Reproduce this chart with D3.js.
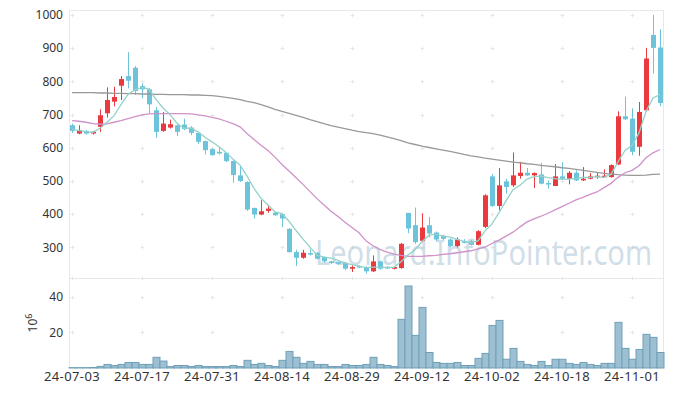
<!DOCTYPE html>
<html>
<head>
<meta charset="utf-8">
<script src="https://cdn.jsdelivr.net/npm/d3@7"></script>
<style>
  body { margin: 0; background: #fff; }
  text { font-family: "Noto Sans", sans-serif; }
</style>
</head>
<body>
<svg id="chart" width="673" height="396"></svg>
<script>
// trading days (2024)
const dates = [
  "07-03","07-04","07-05","07-08","07-09","07-10","07-11","07-12","07-15","07-16",
  "07-17","07-18","07-19","07-22","07-23","07-24","07-25","07-26","07-29","07-30",
  "07-31","08-01","08-02","08-05","08-06","08-07","08-08","08-09","08-12","08-13",
  "08-14","08-16","08-19","08-20","08-21","08-22","08-23","08-26","08-27","08-28",
  "08-29","08-30","09-02","09-03","09-04","09-05","09-06","09-09","09-10","09-11",
  "09-12","09-13","09-19","09-20","09-23","09-24","09-25","09-26","09-27","09-30",
  "10-02","10-04","10-07","10-08","10-10","10-11","10-14","10-15","10-16","10-17",
  "10-18","10-21","10-22","10-23","10-24","10-25","10-28","10-29","10-30","10-31",
  "11-01","11-04","11-05","11-06","11-07"
];
const open = [
  668,643,651,643,663,704,739,787,816,841, 786,776,713,651,661,668,670,661,645,620,
  596,588,585,560,517,497,419,399,410,405, 400,356,286,269,283,284,271,258,256,254,
  236,244,241,228,258,241,236,238,404,367, 320,367,345,335,324,304,319,319,308,362,
  514,425,499,487,515,525,517,520,494,485, 514,507,525,502,507,512,512,512,550,695,
  688,603,713,940,902
];
const high = [
  673,668,653,651,716,782,784,816,888,846, 794,780,723,708,685,670,688,665,648,622,
  598,603,587,562,548,499,420,442,427,407, 402,358,293,293,294,286,273,260,258,256,
  246,246,243,276,260,244,244,313,404,420, 402,392,348,338,327,330,325,322,352,460,
  522,539,507,586,558,539,526,555,502,551, 557,530,532,542,524,524,535,550,710,754,
  719,738,901,1000,957
];
const low = [
  645,641,640,640,648,691,725,744,779,759, 749,704,630,648,658,635,653,638,611,580,
  576,580,557,495,497,410,387,397,404,395, 361,284,244,266,276,264,255,250,248,232,
  226,238,221,226,233,236,234,236,343,311, 316,330,318,322,300,300,312,306,306,358,
  422,412,462,482,507,515,479,490,477,485, 504,490,500,500,505,507,510,510,548,684,
  578,576,710,824,725
];
const close = [
  651,653,643,648,698,744,753,807,802,771, 776,731,648,673,671,648,656,645,618,593,
  578,583,560,518,500,414,399,409,417,397, 387,286,269,284,279,266,258,253,251,236,
  241,240,228,258,236,238,241,311,357,316, 360,342,324,326,304,324,314,308,349,457,
  425,487,482,517,525,517,524,492,490,514, 507,525,502,507,514,516,516,548,695,686,
  588,708,869,901,735
];
// volume, 10^6
const volume = [
  0.2,0.2,0.2,0.3,0.9,2.0,1.4,2.0,3.1,3.1, 2.0,2.0,6.0,3.9,0.8,1.4,1.4,0.8,1.4,0.8,
  0.8,0.8,0.8,1.4,0.8,4.3,2.0,2.6,1.4,0.8, 4.3,9.3,6.0,2.6,3.7,2.0,2.0,0.8,0.8,2.0,
  1.4,1.4,2.0,6.0,2.0,1.4,0.8,27.3,46.0,18.3, 34.0,8.7,3.1,2.6,2.6,3.1,1.4,1.4,5.4,8.2,
  23.9,26.7,4.9,11.0,3.7,2.0,1.4,3.7,1.4,4.9, 4.9,2.6,2.0,3.1,2.0,1.4,2.6,2.6,25.6,11.0,
  4.9,10.4,18.9,17.2,8.7
];
// moving averages
const ma5 = [
  656,652,649,647,659,677,697,730,761,775, 782,777,746,720,700,674,659,659,648,632,
  618,603,586,566,548,515,478,448,428,407, 402,379,351,325,301,277,271,268,261,253,
  248,244,239,241,241,240,240,257,277,293, 317,337,340,334,331,324,318,315,320,350,
  371,405,440,474,487,506,513,515,510,507, 505,506,508,511,511,513,511,520,558,592,
  607,645,709,750,760
];
const ma20 = [
  682,680,677,673,671,672,677,682,688,694, 699,702,703,703,703,703,703,702,699,696,
  692,687,680,673,663,643,625,608,592,572, 550,530,510,490,468,447,428,409,393,376,
  360,344,320,305,294,286,280,276,273,273, 273,275,276,279,281,284,287,290,296,301,
  312,322,334,346,362,377,386,394,403,413, 423,433,443,451,460,467,480,493,511,525,
  532,546,570,585,595
];
const ma60 = [
  766,766,766,766,765,765,764,764,763,763, 762,762,761,761,760,760,760,759,759,758,
  757,755,752,749,745,740,736,730,723,716, 710,704,698,692,685,679,673,667,662,658,
  653,649,646,643,638,633,628,622,615,610, 605,601,597,593,589,585,580,576,573,569,
  566,563,560,557,555,552,550,547,545,543, 540,538,535,532,529,526,523,521,519,518,
  517,517,518,520,521
];
const priceTicks = [300, 400, 500, 600, 700, 800, 900, 1000];
const volTicks = [20, 40];
const dateTicks = [0, 10, 20, 30, 40, 50, 60, 70, 80];

const svg = d3.select("#chart");
const plotLeft = 69, plotRight = 663, plotTop = 10, plotMid = 278, plotBottom = 368;

const x = d3.scaleLinear().domain([0, 84]).range([72, 660]);
const y = d3.scaleLinear().domain([208, 1015]).range([plotMid, plotTop]);
const yv = d3.scaleLinear().domain([0, 50.5]).range([plotBottom, plotMid]);

const upColor = "#ea3a3f", downColor = "#6cc3da";

// panel frames
svg.append("rect").attr("x", plotLeft + 0.5).attr("y", plotTop + 0.5)
  .attr("width", plotRight - plotLeft).attr("height", plotMid - plotTop)
  .attr("fill", "none").attr("stroke", "#e8e8e8");
svg.append("path")
  .attr("d", `M${plotLeft + 0.5},${plotMid + 0.5}V${plotBottom + 0.5}M${plotRight + 0.5},${plotMid + 0.5}V${plotBottom + 0.5}`)
  .attr("stroke", "#e8e8e8").attr("fill", "none");

// grid crosses
function cross(cx, cy) {
  svg.append("path")
    .attr("d", `M${cx - 2},${cy}H${cx + 2}M${cx},${cy - 2}V${cy + 2}`)
    .attr("stroke", "#e6e6e6").attr("stroke-width", 1);
}
dateTicks.forEach(i => {
  priceTicks.forEach(v => cross(Math.round(x(i)) + 0.5, Math.round(y(v)) + 0.5));
  cross(Math.round(x(i)) + 0.5, plotMid + 0.5);
  volTicks.forEach(v => cross(Math.round(x(i)) + 0.5, Math.round(yv(v)) + 0.5));
});

// axis labels
svg.append("g").selectAll("text").data(priceTicks).join("text")
  .attr("x", 63).attr("y", d => y(d)).attr("dy", "0.35em")
  .attr("text-anchor", "end").attr("fill", "#333").style("font-size", "12px")
  .text(d => d);
svg.append("g").selectAll("text").data(volTicks).join("text")
  .attr("x", 63).attr("y", d => yv(d)).attr("dy", "0.35em")
  .attr("text-anchor", "end").attr("fill", "#333").style("font-size", "12px")
  .text(d => d);
svg.append("g").selectAll("text").data(dateTicks).join("text")
  .attr("x", d => x(d)).attr("y", 381)
  .attr("text-anchor", "middle").attr("fill", "#333")
  .style("font-size", "13px").style("letter-spacing", "0.4px")
  .text(d => "24-" + dates[d]);

const unit = svg.append("text")
  .attr("transform", "translate(37,323) rotate(-90)")
  .attr("text-anchor", "middle").attr("fill", "#333").style("font-size", "12px");
unit.append("tspan").text("10");
unit.append("tspan").attr("dy", "-5").style("font-size", "9px").text("6");

// volume bars
svg.append("g").selectAll("rect").data(volume).join("rect")
  .attr("x", (d, i) => x(i) - 3.5 + 0.5)
  .attr("y", d => yv(d))
  .attr("width", 7)
  .attr("height", d => plotBottom - yv(d))
  .attr("fill", "#9cc0d2")
  .attr("stroke", "#6f9fb8")
  .attr("stroke-width", 1);

// watermark
svg.append("text")
  .attr("transform", "translate(315,265) scale(0.83,1)")
  .attr("fill", "#a8c2d5").attr("fill-opacity", 0.55)
  .style("font-size", "35px")
  .text("Leonard.InfoPointer.com");

// candles
const idx = d3.range(close.length);
const candles = svg.append("g");
candles.selectAll("line").data(idx).join("line")
  .attr("x1", i => Math.round(x(i)) + 0.5).attr("x2", i => Math.round(x(i)) + 0.5)
  .attr("y1", i => y(high[i])).attr("y2", i => y(low[i]))
  .attr("stroke", i => close[i] >= open[i] ? upColor : downColor)
  .attr("stroke-width", 1);
candles.selectAll("rect").data(idx).join("rect")
  .attr("x", i => Math.round(x(i)) - 2)
  .attr("width", 5)
  .attr("y", i => y(Math.max(open[i], close[i])))
  .attr("height", i => Math.max(1.5, Math.abs(y(open[i]) - y(close[i]))))
  .attr("fill", i => close[i] >= open[i] ? upColor : downColor);

// moving averages
const line = d3.line().x((d, i) => x(i)).y(d => y(d));
[[ma60, "#999999"], [ma20, "#cf92c9"], [ma5, "#93d2ca"]].forEach(([s, c]) => {
  svg.append("path").datum(s)
    .attr("d", line)
    .attr("fill", "none")
    .attr("stroke", c)
    .attr("stroke-width", 1.3);
});
</script>
</body>
</html>
